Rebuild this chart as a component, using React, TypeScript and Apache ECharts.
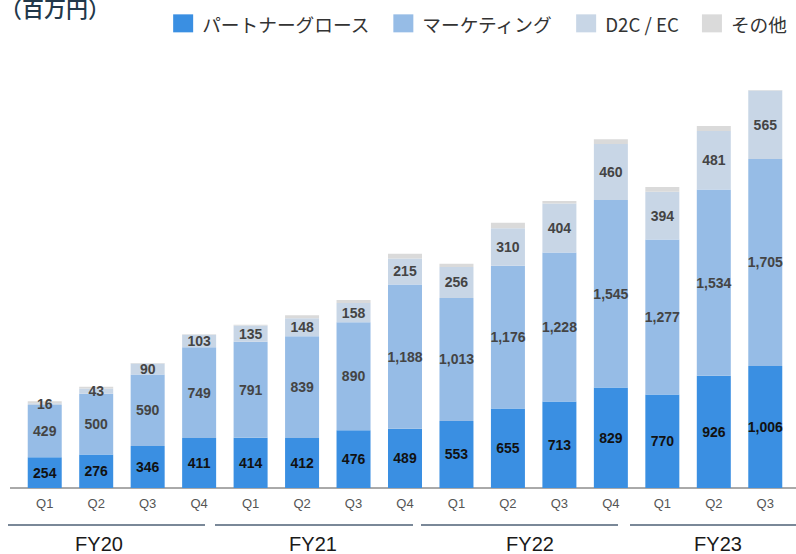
import React, { useEffect, useRef } from "react";
import * as echarts from "echarts";

// Quarterly revenue by segment (百万円)
const quarters = ["Q1", "Q2", "Q3", "Q4", "Q1", "Q2", "Q3", "Q4", "Q1", "Q2", "Q3", "Q4", "Q1", "Q2", "Q3"];
const fiscalYears = ["FY20", "FY21", "FY22", "FY23"];
const partnerGrowth = [254, 276, 346, 411, 414, 412, 476, 489, 553, 655, 713, 829, 770, 926, 1006];
const marketing = [429, 500, 590, 749, 791, 839, 890, 1188, 1013, 1176, 1228, 1545, 1277, 1534, 1705];
const d2cEc = [16, 43, 90, 103, 135, 148, 158, 215, 256, 310, 404, 460, 394, 481, 565];
const others = [15, 15, 5, 5, 5, 25, 25, 38, 25, 45, 20, 40, 40, 42, 3];

const seriesNames = ["パートナーグロース", "マーケティング", "D2C / EC", "その他"];
const seriesColors = ["#3a8fe2", "#96bce6", "#c8d6e6", "#dadada"];
const labelColors = ["#111111", "#444444", "#444444", "#444444"];

// Fiscal-year bracket lines under the quarter labels: [x0, x1, text centre]
const yearBrackets: [number, number, number][] = [
  [8, 205, 99],
  [215, 413, 313],
  [421, 618, 530],
  [630, 796, 718],
];

const latin = "'Liberation Sans', Arial, sans-serif";
const cjk = "'Noto Sans CJK JP', 'Noto Sans', sans-serif";

export default function App() {
  const ref = useRef<HTMLDivElement>(null);

  useEffect(() => {
    if (!ref.current) return;
    const chart = echarts.init(ref.current, null, { renderer: "svg" });
    const data = [partnerGrowth, marketing, d2cEc, others];

    const graphics: any[] = [
      {
        type: "text",
        left: 0,
        top: -4,
        style: { text: "（百万円）", font: `500 22px ${cjk}`, fill: "#22384a" },
      },
      {
        type: "line",
        shape: { x1: 10, y1: 488, x2: 796, y2: 488 },
        style: { stroke: "#555555", lineWidth: 1 },
      },
    ];
    yearBrackets.forEach(([x0, x1, cx], i) => {
      graphics.push({
        type: "line",
        shape: { x1: x0, y1: 525, x2: x1, y2: 525 },
        style: { lineWidth: 2, stroke: "#7a8898" },
      });
      graphics.push({
        type: "text",
        x: cx,
        y: 544,
        style: {
          text: fiscalYears[i],
          font: `20px ${latin}`,
          fill: "#1a1a1a",
          align: "center",
          verticalAlign: "middle",
        },
      });
    });

    chart.setOption({
      animation: false,
      legend: {
        top: 9,
        right: 4,
        itemWidth: 20,
        itemHeight: 18,
        itemGap: 23,
        icon: "rect",
        textStyle: { fontFamily: cjk, fontSize: 18.7, color: "#333333", padding: [0, 0, 0, 4] },
        data: seriesNames,
      },
      grid: { left: 19, width: 772, top: 39, height: 449 },
      xAxis: {
        type: "category",
        data: quarters,
        axisLine: { show: false },
        axisTick: { show: false },
        axisLabel: { color: "#555555", fontSize: 13, fontFamily: latin, margin: 9 },
      },
      yAxis: {
        type: "value",
        min: 0,
        max: 3700,
        show: false,
        splitLine: { show: false },
      },
      series: seriesNames.map((name, i) => ({
        name,
        type: "bar",
        stack: "total",
        barWidth: 34,
        data: data[i],
        itemStyle: { color: seriesColors[i] },
        label: {
          show: i < 3,
          position: "inside",
          color: labelColors[i],
          fontFamily: latin,
          fontWeight: "bold",
          fontSize: 14,
          formatter: (p: any) => Number(p.value).toLocaleString("en-US"),
        },
      })),
      graphic: graphics,
    });

    return () => chart.dispose();
  }, []);

  return <div ref={ref} style={{ width: 796, height: 554, position: "absolute", left: 0, top: 0 }} />;
}
